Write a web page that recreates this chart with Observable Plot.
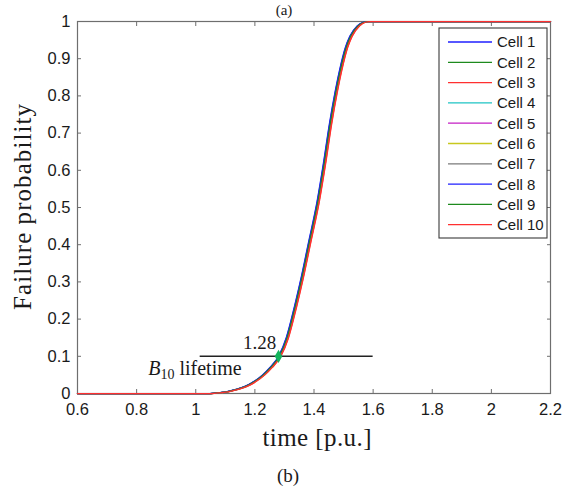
<!DOCTYPE html>
<html>
<head>
<meta charset="utf-8">
<script src="https://cdn.jsdelivr.net/npm/d3@7"></script>
<script src="https://cdn.jsdelivr.net/npm/@observablehq/plot@0.6"></script>
<style>
  html, body { margin: 0; padding: 0; background: #fff; }
  #chart svg { display: block; }
</style>
</head>
<body>
<div id="chart"></div>
<script>
// Failure-probability curves of ten cells versus normalised time
const cells = ["Cell 1", "Cell 2", "Cell 3", "Cell 4", "Cell 5",
               "Cell 6", "Cell 7", "Cell 8", "Cell 9", "Cell 10"];
const cellColors = ["#1f1fff", "#1d8a1d", "#ff3030", "#1ec4c4", "#c41ec4",
                    "#c8c81e", "#7a7a7a", "#1f1fff", "#1d8a1d", "#ff3030"];
// small time offset of each cell's curve [p.u.]
const cellShift = [-0.004, -0.002, 0.004, 0.000, -0.001,
                    0.001,  0.000, -0.003, -0.001, 0.003];

// common curve shape: time [p.u.] and failure probability
const curveTime = [0.6, 1.05, 1.08, 1.11, 1.14, 1.17, 1.20, 1.23, 1.255, 1.284,
                   1.31, 1.338, 1.36, 1.385, 1.414, 1.435, 1.456, 1.475, 1.49,
                   1.51, 1.525, 1.55, 1.57, 1.585, 2.2];
const curveProb = [0, 0, 0.002, 0.005, 0.011, 0.019, 0.032, 0.05, 0.07, 0.10,
                   0.15, 0.235, 0.31, 0.405, 0.515, 0.615, 0.725, 0.81, 0.868,
                   0.93, 0.96, 0.988, 0.998, 1, 1];

const xTicks = [0.6, 0.8, 1, 1.2, 1.4, 1.6, 1.8, 2, 2.2];
const yTicks = [0, 0.1, 0.2, 0.3, 0.4, 0.5, 0.6, 0.7, 0.8, 0.9, 1];

// B10 lifetime marker
const b10Prob = 0.1;
const b10Time = 1.28;
const b10Span = [1.015, 1.6];

const rows = [];
cells.forEach((cell, i) => {
  curveTime.forEach((t, j) => {
    const inner = j > 0 && j < curveTime.length - 1;
    rows.push({cell, t: inner ? t + cellShift[i] : t, p: curveProb[j]});
  });
});

const serif = "'Liberation Serif', 'Times New Roman', serif";
const sans = "'Liberation Sans', Arial, Helvetica, sans-serif";
const axisGray = "#6e6e6e";
const ink = "#1a1a1a";

const chart = Plot.plot({
  width: 577,
  height: 487,
  marginLeft: 77,
  marginRight: 27,
  marginTop: 21,
  marginBottom: 94,
  x: {domain: [0.6, 2.2]},
  y: {domain: [0, 1]},
  color: {domain: cells, range: cellColors},
  style: {fontFamily: sans, fontSize: "16.5px", color: ink, background: "#fff", overflow: "visible"},
  marks: [
    Plot.frame({stroke: axisGray, strokeWidth: 1.2}),
    Plot.axisX({ticks: xTicks, tickSize: -4, tickPadding: 14, stroke: axisGray,
                tickFormat: d => String(d), label: null}),
    Plot.axisX({anchor: "top", ticks: xTicks, tickSize: -4, stroke: axisGray,
                tickFormat: () => "", label: null}),
    Plot.axisY({ticks: yTicks, tickSize: -4, tickPadding: 11, stroke: axisGray,
                tickFormat: d => String(d), label: null}),
    Plot.axisY({anchor: "right", ticks: yTicks, tickSize: -4, stroke: axisGray,
                tickFormat: () => "", label: null}),
    Plot.line(rows, {x: "t", y: "p", z: "cell", stroke: "cell", strokeWidth: 1.25, curve: "monotone-x"}),
    Plot.ruleY([b10Prob], {x1: b10Span[0], x2: b10Span[1], stroke: "#222", strokeWidth: 1.4}),
    Plot.dot([b10Time], {x: d => d, y: b10Prob, r: 4, fill: "#14b45c", symbol: "diamond"}),
    Plot.text([b10Time], {x: d => d, y: b10Prob, text: d => d.toFixed(2), dx: -19, dy: -13,
                          fontFamily: serif, fontSize: 19, fill: ink})
  ]
});

document.getElementById("chart").appendChild(chart);

const svg = d3.select(chart);
const sx = chart.scale("x"), sy = chart.scale("y");

// "B10 lifetime" annotation below the left end of the marker line
const b10 = svg.append("text")
  .attr("x", sx.apply(b10Span[0]) + 42)
  .attr("y", sy.apply(b10Prob) + 19)
  .attr("text-anchor", "end")
  .attr("font-family", serif)
  .attr("font-size", 20)
  .attr("fill", ink);
b10.append("tspan").attr("font-style", "italic").text("B");
b10.append("tspan").attr("font-size", 14).attr("dy", 4).text("10");
b10.append("tspan").attr("dy", -4).text(" lifetime");

// axis titles and panel tags
svg.append("text")
  .attr("transform", "translate(31,207) rotate(-90)")
  .attr("text-anchor", "middle")
  .attr("font-family", serif).attr("font-size", 25).attr("fill", ink)
  .attr("textLength", 206).attr("lengthAdjust", "spacing")
  .text("Failure probability");
svg.append("text")
  .attr("x", 317).attr("y", 446)
  .attr("text-anchor", "middle")
  .attr("font-family", serif).attr("font-size", 25).attr("fill", ink)
  .attr("textLength", 109).attr("lengthAdjust", "spacing")
  .text("time [p.u.]");
svg.append("text")
  .attr("x", 288).attr("y", 482)
  .attr("text-anchor", "middle")
  .attr("font-family", serif).attr("font-size", 19).attr("fill", ink)
  .text("(b)");
svg.append("text")
  .attr("x", 284).attr("y", 15)
  .attr("text-anchor", "middle")
  .attr("font-family", serif).attr("font-size", 15).attr("fill", ink)
  .text("(a)");

// legend box in the upper right corner
const legend = svg.append("g").attr("transform", "translate(439,28)");
legend.append("rect")
  .attr("width", 108).attr("height", 210)
  .attr("fill", "#fff").attr("stroke", "#3a3a3a").attr("stroke-width", 1.1);
cells.forEach((cell, i) => {
  const y = 14 + i * 20.3;
  legend.append("line")
    .attr("x1", 9).attr("x2", 53).attr("y1", y).attr("y2", y)
    .attr("stroke", cellColors[i]).attr("stroke-width", 1.3);
  legend.append("text")
    .attr("x", 58).attr("y", y).attr("dy", "0.36em")
    .attr("text-anchor", "start")
    .attr("font-family", sans).attr("font-size", 15).attr("fill", ink)
    .text(cell);
});
</script>
</body>
</html>
